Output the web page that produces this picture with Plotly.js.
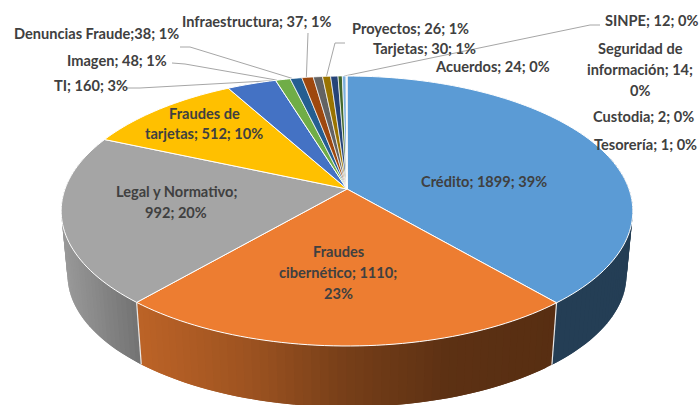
<!DOCTYPE html>
<html>
<head>
<meta charset="utf-8">
<script src="https://cdn.plot.ly/plotly-3.0.1.min.js"></script>
<style>html,body{margin:0;padding:0;background:#fff}#c{width:699px;height:405px}</style>
</head>
<body>
<div id="c"></div>
<script>
// ---- data ----
const categories = ["Crédito","Fraudes cibernético","Legal y Normativo","Fraudes de tarjetas","TI","Imagen","Denuncias Fraude","Infraestructura","Tarjetas","Proyectos","Acuerdos","Seguridad de información","SINPE","Custodia","Tesorería"];
const values = [1899,1110,992,512,160,48,38,37,30,26,24,14,12,2,1];
const labelText = [
  ["Crédito; 1899; 39%"],
  ["Fraudes","cibernético; 1110;","23%"],
  ["Legal y Normativo;","992; 20%"],
  ["Fraudes de","tarjetas; 512; 10%"],
  ["TI; 160; 3%"],
  ["Imagen; 48; 1%"],
  ["Denuncias Fraude;38; 1%"],
  ["Infraestructura; 37; 1%"],
  ["Tarjetas; 30; 1%"],
  ["Proyectos; 26; 1%"],
  ["Acuerdos; 24; 0%"],
  ["Seguridad de","información; 14;","0%"],
  ["SINPE; 12; 0%"],
  ["Custodia; 2; 0%"],
  ["Tesorería; 1; 0%"]
];
// ---- styles and placement ----
const colors = ["#5B9BD5","#ED7D31","#A5A5A5","#FFC000","#4472C4","#70AD47","#255E91","#9E480E","#636363","#997300","#264478","#43682B","#7CAFDD","#F1975A","#B7B7B7"];
const labelX = [484,338,176,204,91,117,96,256,424,410,492,640,651,643,645];
const labelY = [181,251,191,113,85,60,33,21,48,28,66,48,20,116,144];
const lineGap = [0,21,21,20,0,0,0,0,0,0,0,21,0,0,0];
const leaderIdx = [4,5,6,7,9,12];
const leaderFrac = [0.95,0.1,0.2,0.4,0.5,0.5];
const leaderStartX = [127,172,180,308,345,600];
const leaderStartY = [88,63,47,33,43,25];
const leaderElbowX = [140,185,190,308,335,590];
const leaderElbowY = [88,64,47,33,43,25];

const geom = {cx:347, cy:189, a:282, b:131.4, k:0.163, depth:64.5, shrink:0.978};
function pt(deg, lower){
  const t = deg*Math.PI/180, u = Math.sin(t), v = Math.cos(t), s = 1/(1+geom.k*v);
  const f = lower ? geom.shrink : 1, d = lower ? geom.depth : 0;
  return [geom.cx + geom.a*f*u*s, geom.cy + d - geom.b*f*v*s];
}
const total = values.reduce((p,c)=>p+c,0);
const edges = [0];
values.forEach(v=>edges.push(edges[edges.length-1]+v/total*360));

function shade(x, slice){
  const xs = slice===0 ? [450,640] : slice===1 ? [141,250,345,450,553] : [62,141];
  const fs = slice===0 ? [0.40,0.40] : slice===1 ? [0.79,0.66,0.50,0.39,0.37] : [0.93,0.68];
  let f = fs[fs.length-1];
  if (x<=xs[0]) f = fs[0];
  else for(let i=0;i<xs.length-1;i++) if(x>=xs[i]&&x<=xs[i+1]) f = fs[i]+(fs[i+1]-fs[i])*(x-xs[i])/(xs[i+1]-xs[i]);
  const c = colors[slice];
  const ch = [1,3,5].map(i=>Math.round(parseInt(c.substr(i,2),16)*f));
  return `rgb(${ch.join(",")})`;
}

const traces = [];
function poly(xs, ys, fill, line, w){
  traces.push({type:"scatter",mode:w>0?"lines":"none",x:xs,y:ys,fill:"toself",fillcolor:fill,
    line:{color:line,width:w,simplify:false},hoverinfo:"skip",showlegend:false});
}
// leader lines (below the pie)
leaderIdx.forEach((idx,i)=>{
  const e = pt(edges[idx]+(edges[idx+1]-edges[idx])*leaderFrac[i], false);
  traces.push({type:"scatter",mode:"lines",x:[leaderStartX[i],leaderElbowX[i],e[0]],y:[leaderStartY[i],leaderElbowY[i],e[1]],
    line:{color:"#A6A6A6",width:1},hoverinfo:"skip",showlegend:false});
});
// side wall strips, each overlapping the next so that no seam shows
function wall(slice, from, to){
  const n = Math.max(1,Math.round(Math.abs(to-from)/1.5));
  const step = (to-from)/n;
  for(let i=0;i<n;i++){
    const a = from+step*i, b = from+step*Math.min(n,i+2);
    const c = from+step*(i+1);
    const p = [pt(a,false),pt(b,false),pt(b,true),pt(a,true)];
    const col = shade((pt(a,false)[0]+pt(c,false)[0])/2, slice);
    poly(p.map(q=>q[0]).concat(p[0][0]),p.map(q=>q[1]).concat(p[0][1]),col,col,0);
  }
}
wall(0,75,edges[1]);
wall(2,285,edges[2]);
wall(1,edges[1],edges[2]);
// white separators on the wall
[edges[1],edges[2]].forEach(e=>{
  const p=pt(e,false), q=pt(e,true);
  traces.push({type:"scatter",mode:"lines",x:[p[0],q[0]],y:[p[1],q[1]],line:{color:"#E8E8E8",width:1.2},hoverinfo:"skip",showlegend:false});
});
// top surface
values.forEach((v,i)=>{
  const xs=[geom.cx], ys=[geom.cy], n=Math.max(2,Math.ceil((edges[i+1]-edges[i])/1.5));
  for(let j=0;j<=n;j++){ const p=pt(edges[i]+(edges[i+1]-edges[i])*j/n,false); xs.push(p[0]); ys.push(p[1]); }
  xs.push(geom.cx); ys.push(geom.cy);
  poly(xs,ys,colors[i],"#FFFFFF",i<6?1:0.7);
});
// labels
const annotations = [];
labelText.forEach((lines,i)=>{
  lines.forEach((t,j)=>annotations.push({xref:"x",yref:"y",x:labelX[i],y:labelY[i]+j*lineGap[i],text:t,showarrow:false,
    xanchor:"center",yanchor:"middle",font:{family:"Lato, 'Open Sans', sans-serif",size:14.6,color:"#404040",weight:700}}));
});
const hidden = {visible:false,fixedrange:true};
Plotly.newPlot("c",traces,{
  width:699,height:405,margin:{l:0,r:0,t:0,b:0},paper_bgcolor:"#fff",plot_bgcolor:"#fff",showlegend:false,
  xaxis:Object.assign({range:[0,699]},hidden),
  yaxis:Object.assign({range:[405,0]},hidden),
  annotations:annotations
},{displayModeBar:false,staticPlot:true});
</script>
</body>
</html>
